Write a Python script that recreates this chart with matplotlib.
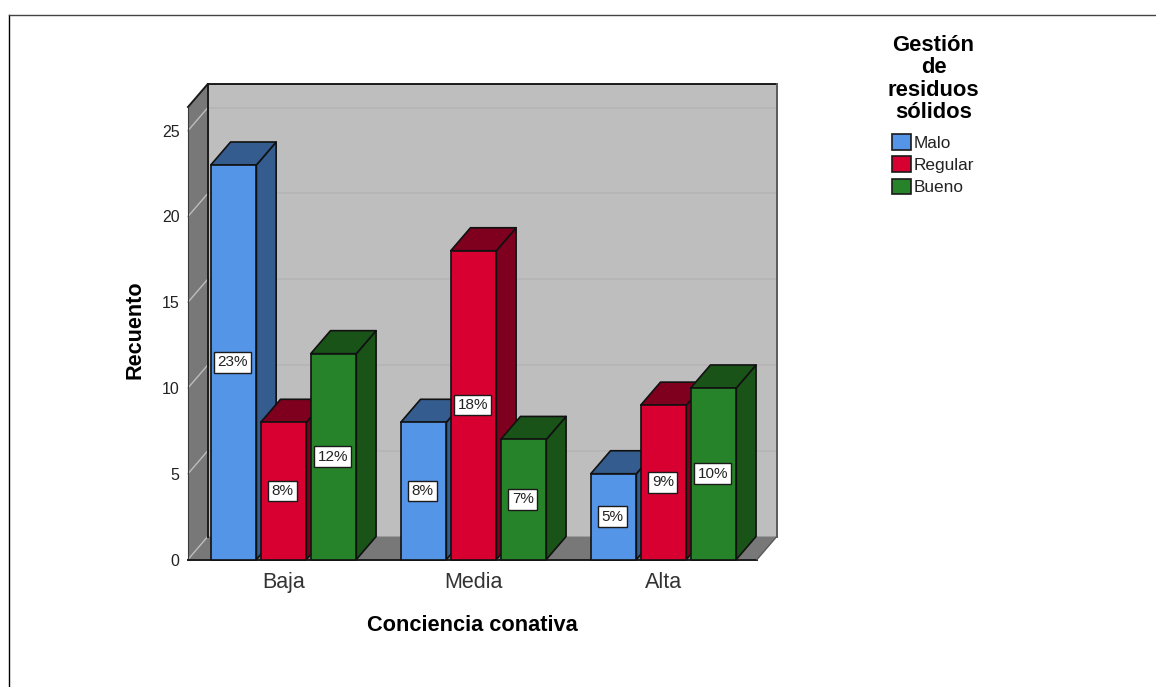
import matplotlib.pyplot as plt
import numpy as np
from matplotlib.patches import Patch, Polygon

plt.rcParams["font.family"] = ["Liberation Sans", "DejaVu Sans"]

categories = ["Baja", "Media", "Alta"]
series_names = ["Malo", "Regular", "Bueno"]
malo = [23, 8, 5]
regular = [8, 18, 9]
bueno = [12, 7, 10]
y_ticks = [0, 5, 10, 15, 20, 25]

front_colors = ["#5595E8", "#D70030", "#27832A"]
side_colors = ["#345C8E", "#7F001E", "#195318"]

# extrusion of the 3D box, in data units
DEPTH_X = 0.104
DEPTH_Y = 1.34
BAR_W = 0.24
BAR_STEP = 0.263
Y_MAX = 26.38
X_MIN, X_MAX = -0.503, 2.492

W, H = 1156, 687
fig = plt.figure(figsize=(W / 100, H / 100), dpi=100, facecolor="white")
ax = fig.add_axes([188 / W, 1 - 559.5 / H, 569 / W, 452.5 / H])
ax.set_xlim(X_MIN, X_MAX)
ax.set_ylim(0, Y_MAX)
ax.patch.set_visible(False)
for spine in ax.spines.values():
    spine.set_visible(False)


def face(points, color, z, edge="#111111", lw=1.2):
    ax.add_patch(Polygon(points, closed=True, facecolor=color, edgecolor=edge,
                         linewidth=lw, clip_on=False, zorder=z, joinstyle="round"))


# walls and floor
face([(X_MIN + DEPTH_X, DEPTH_Y), (X_MAX + DEPTH_X, DEPTH_Y),
      (X_MAX + DEPTH_X, Y_MAX + DEPTH_Y), (X_MIN + DEPTH_X, Y_MAX + DEPTH_Y)],
     "#BEBEBE", 1, edge="none")
face([(X_MIN, 0), (X_MIN + DEPTH_X, DEPTH_Y), (X_MIN + DEPTH_X, Y_MAX + DEPTH_Y), (X_MIN, Y_MAX)],
     "#787878", 1, edge="none")
face([(X_MIN, 0), (X_MAX, 0), (X_MAX + DEPTH_X, DEPTH_Y), (X_MIN + DEPTH_X, DEPTH_Y)],
     "#787878", 1, edge="none")

for tick in y_ticks[1:]:
    ax.plot([X_MIN + DEPTH_X, X_MAX + DEPTH_X], [tick + DEPTH_Y] * 2, color="#B5B5B5",
            lw=1.2, clip_on=False, zorder=2)
for tick in y_ticks:
    ax.plot([X_MIN, X_MIN + DEPTH_X], [tick, tick + DEPTH_Y], color="#BDBDBD",
            lw=1, clip_on=False, zorder=2)

# outline of the box
ax.plot([X_MIN, X_MIN + DEPTH_X, X_MAX + DEPTH_X], [Y_MAX, Y_MAX + DEPTH_Y, Y_MAX + DEPTH_Y],
        color="#1A1A1A", lw=1.4, clip_on=False, zorder=3)
ax.plot([X_MIN + DEPTH_X, X_MIN + DEPTH_X], [DEPTH_Y, Y_MAX + DEPTH_Y],
        color="#1A1A1A", lw=1.4, clip_on=False, zorder=3)
ax.plot([X_MAX + DEPTH_X, X_MAX + DEPTH_X], [DEPTH_Y, Y_MAX + DEPTH_Y],
        color="#5A5A5A", lw=1.4, clip_on=False, zorder=3)
ax.plot([X_MIN, X_MIN], [0, Y_MAX], color="#3A3A3A", lw=0.8, clip_on=False, zorder=3)
ax.plot([X_MIN, X_MAX], [0, 0], color="#1A1A1A", lw=1.4, clip_on=False, zorder=3)
ax.plot([X_MAX, X_MAX + DEPTH_X], [0, DEPTH_Y], color="#5A5A5A", lw=1, clip_on=False, zorder=3)

# bars, painted left to right so each one covers its neighbour's side
z = 4
values = np.array([malo, regular, bueno])
for i in range(len(categories)):
    for j in range(len(series_names)):
        v = values[j, i]
        x0 = i + (j - 1) * BAR_STEP - BAR_W / 2
        x1 = x0 + BAR_W
        face([(x1, 0), (x1 + DEPTH_X, DEPTH_Y), (x1 + DEPTH_X, v + DEPTH_Y), (x1, v)],
             side_colors[j], z)
        face([(x0, v), (x1, v), (x1 + DEPTH_X, v + DEPTH_Y), (x0 + DEPTH_X, v + DEPTH_Y)],
             side_colors[j], z)
        face([(x0, 0), (x1, 0), (x1, v), (x0, v)], front_colors[j], z + 0.1)
        z += 1

# percent labels stay above every bar
for i in range(len(categories)):
    for j in range(len(series_names)):
        v = values[j, i]
        ax.text(i + (j - 1) * BAR_STEP - 0.004, v / 2, f"{v}%", ha="center", va="center", fontsize=11,
                color="#222222", zorder=30,
                bbox=dict(boxstyle="square,pad=0.22", facecolor="white",
                          edgecolor="#1A1A1A", linewidth=1))

ax.set_xticks(range(len(categories)), categories)
ax.set_yticks(y_ticks)
ax.tick_params(axis="y", length=0, pad=6, labelsize=11.5, labelcolor="#222222")
ax.tick_params(axis="x", length=0, pad=9, labelsize=15.5, labelcolor="#333333")
ax.set_xlabel("Conciencia conativa", fontsize=15.7, fontweight="bold", labelpad=16)
ax.set_ylabel("Recuento", fontsize=15.6, fontweight="bold")
ax.yaxis.set_label_coords(-43 / 569, 0.507)

handles = [Patch(facecolor=c, edgecolor="#1A1A1A", linewidth=1.2) for c in front_colors]
leg = fig.legend(handles, series_names, title="Gestión\nde\nresiduos\nsólidos",
                 loc="upper center", bbox_to_anchor=(933.5 / W, 1 - 21 / H), frameon=False,
                 fontsize=12.4, handlelength=1.05, handleheight=1.0, handletextpad=0.2,
                 labelspacing=0.33, borderpad=0.3, labelcolor="#222222")
leg.get_title().set_fontsize(15.8)
leg.get_title().set_fontweight("bold")
leg.get_title().set_linespacing(1.09)
leg.get_title().set_multialignment("center")
leg._legend_box.sep = 8

# frame around the chart area
fig.add_artist(plt.Line2D([9 / W, 9 / W], [0, 1 - 15 / H], color="black", lw=1))
fig.add_artist(plt.Line2D([9 / W, 1], [1 - 15 / H, 1 - 15 / H], color="#444444", lw=1))

fig.savefig("out.png", dpi=100)
